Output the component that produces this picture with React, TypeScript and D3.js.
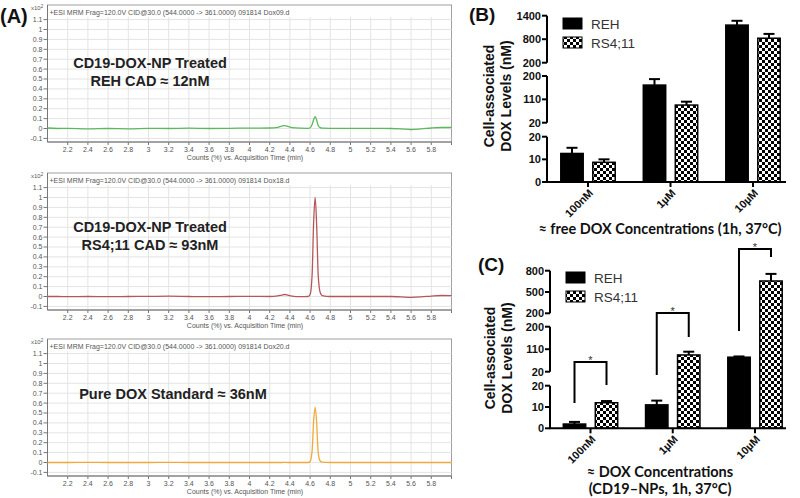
import React from 'react';
import * as d3 from 'd3';

// (A) chromatograms: acquisition time (min) and counts (x10^2)
const acqTimes = [2.0, 2.1, 2.2, 2.4, 2.6, 2.8, 3.0, 3.2, 3.4, 3.6, 3.8, 4.0, 4.2, 4.28, 4.32, 4.35, 4.38, 4.42, 4.5, 4.58, 4.6, 4.62, 4.635, 4.65, 4.665, 4.68, 4.7, 4.72, 4.8, 5.0, 5.2, 5.4, 5.5, 5.6, 5.7, 5.8, 5.9, 6.0];
const rehCounts = [0.005, 0.0, 0.002, -0.004, 0.0, -0.003, 0.002, 0.0, 0.003, 0.0, 0.002, 0.004, 0.005, 0.012, 0.025, 0.03, 0.022, 0.008, 0.003, 0.002, 0.008, 0.04, 0.09, 0.12, 0.085, 0.03, 0.008, 0.003, 0.002, 0.002, 0.001, 0.0, -0.003, -0.01, -0.004, 0.005, 0.01, 0.01];
const rs4Counts = [0.0, 0.0, -0.002, 0.0, -0.002, 0.0, 0.001, 0.003, 0.0, -0.002, 0.0, 0.001, 0.0, 0.006, 0.015, 0.02, 0.014, 0.004, -0.002, 0.0, 0.02, 0.22, 0.75, 1.0, 0.72, 0.22, 0.04, 0.01, 0.0, 0.0, 0.0, 0.0, -0.004, -0.008, -0.004, 0.004, 0.01, 0.008];
const stdCounts = [0.0, 0.0, 0.0, 0.001, 0.0, 0.0, 0.0, 0.001, 0.0, 0.0, 0.0, 0.0, 0.0, 0.0, 0.0, 0.001, 0.0, 0.0, 0.0, 0.0, 0.01, 0.12, 0.42, 0.56, 0.4, 0.1, 0.015, 0.003, 0.0, 0.0, 0.0, 0.0, 0.0, 0.0, 0.0, 0.0, 0.0, 0.0];
const timeTicks = [2.2, 2.4, 2.6, 2.8, 3, 3.2, 3.4, 3.6, 3.8, 4, 4.2, 4.4, 4.6, 4.8, 5, 5.2, 5.4, 5.6, 5.8];
const countTicks = [-0.1, 0, 0.1, 0.2, 0.3, 0.4, 0.5, 0.6, 0.7, 0.8, 0.9, 1, 1.1];

// (B) and (C) bar charts
const doseGroups = ['100nM', '1µM', '10µM'];
const cellLines = ['REH', 'RS4;11'];
const freeReh = [12.6, 165, 1160];
const freeRehErr = [2.5, 23, 110];
const freeRs4 = [8.7, 88, 825];
const freeRs4Err = [1.3, 13, 110];
const npReh = [2.0, 11, 78];
const npRehErr = [1.0, 2, 3];
const npRs4 = [12, 87, 655];
const npRs4Err = [0.8, 13, 100];
const freeTicks = [[0, 10, 20], [20, 110, 200], [200, 800, 1400]];
const npTicks = [[0, 10, 20], [20, 110, 200], [200, 500, 800]];

const SANS = '"Liberation Sans", Arial, sans-serif';

function Chromatogram({ top, counts, color, file, lines, labelX, labelY }: any) {
  const left = 47.5, right = 451.5;
  const bottom = top + 137;
  const x = d3.scaleLinear().domain([2.0, 6.0]).range([left, right]);
  const y = d3.scaleLinear().domain([0, 1]).range([top + 123.5, top + 24.5]);
  const line = d3.line<number>()
    .x((_, i) => x(acqTimes[i]))
    .y(d => y(d))
    .curve(d3.curveMonotoneX);

  return (
    <g>
      <rect x={left} y={top} width={right - left} height={bottom - top} fill="#fff" stroke="#a0a0a0" />
      {timeTicks.map(t => (
        <line key={'gx' + t} x1={x(t)} x2={x(t)} y1={top + 12} y2={bottom} stroke="#e4e4e4" />
      ))}
      {countTicks.map(c => (
        <line key={'gy' + c} x1={left} x2={right} y1={y(c)} y2={y(c)} stroke="#e4e4e4" />
      ))}
      <line x1={left} x2={left} y1={top} y2={bottom} stroke="#777" />
      <line x1={left} x2={right} y1={bottom} y2={bottom} stroke="#777" />
      {countTicks.map(c => (
        <g key={'ty' + c}>
          <line x1={left - 4} x2={left} y1={y(c)} y2={y(c)} stroke="#777" />
          <text x={left - 5} y={y(c)} dy="0.35em" textAnchor="end" fontSize={7} fill="#555" fontFamily={SANS}>{String(c)}</text>
        </g>
      ))}
      {[...timeTicks, 6].map(t => (
        <line key={'tx' + t} x1={x(t)} x2={x(t)} y1={bottom} y2={bottom + 3} stroke="#777" />
      ))}
      {timeTicks.map(t => (
        <text key={'lx' + t} x={x(t)} y={bottom + 10} textAnchor="middle" fontSize={7} fill="#555" fontFamily={SANS}>{String(t)}</text>
      ))}
      <text x={245} y={bottom + 18} textAnchor="middle" fontSize={7} fill="#555" fontFamily={SANS}>Counts (%) vs. Acquisition Time (min)</text>
      <text x={31} y={top + 5} fontSize={6} fill="#555" fontFamily={SANS}>x10<tspan dy={-2.5} fontSize={4.5}>2</tspan></text>
      <text x={left + 2} y={top + 10} fontSize={7} fill="#555" fontFamily={SANS}>{'+ESI MRM Frag=120.0V CID@30.0 (544.0000 -> 361.0000) 091814 ' + file}</text>
      <path d={line(counts) || ''} fill="none" stroke={color} strokeWidth={1.3} />
      {lines.map((s: string, i: number) => (
        <text key={s} x={labelX} y={labelY + i * 18} textAnchor="middle" fontSize={14.5} fontWeight="bold" fill="#222" fontFamily={SANS}>{s}</text>
      ))}
    </g>
  );
}

function BarPanel({ axisX, segRanges, ticks, centers, reh, rehErr, rs4, rs4Err, legendY, brackets }: any) {
  const segs = ticks.map((t: number[], i: number) =>
    d3.scaleLinear().domain([t[0], t[t.length - 1]]).range(segRanges[i]));
  const yOf = (v: number) => {
    let i = 0;
    while (i < segs.length - 1 && v > segs[i].domain()[1]) i++;
    return segs[i](v);
  };
  const bottom = segRanges[0][0];
  const gx = d3.scalePoint<string>().domain(doseGroups).range(centers);
  const sx = d3.scaleBand<string>().domain(cellLines).range([-27.2, 27.2]).paddingInner(0.3);
  const bw = sx.bandwidth();
  const series = [
    { name: 'REH', vals: reh, errs: rehErr, fill: '#000' },
    { name: 'RS4;11', vals: rs4, errs: rs4Err, fill: 'url(#checker)' },
  ];

  return (
    <g fontFamily={SANS}>
      {segs.map((s: any, i: number) => (
        <g key={'seg' + i}>
          <line x1={axisX} x2={axisX} y1={segRanges[i][0]} y2={segRanges[i][1]} stroke="#000" strokeWidth={2} />
          {ticks[i].map((t: number) => (
            <g key={t}>
              <line x1={axisX - 5} x2={axisX} y1={s(t)} y2={s(t)} stroke="#000" strokeWidth={2} />
              <text x={axisX - 6} y={s(t)} dy="0.35em" textAnchor="end" fontSize={11} fontWeight="bold" fill="#111">{t}</text>
            </g>
          ))}
        </g>
      ))}
      {series.map(se => doseGroups.map((g, gi) => {
        const x0 = (gx(g) as number) + (sx(se.name) as number);
        const top = yOf(se.vals[gi]);
        const errTop = yOf(se.vals[gi] + se.errs[gi]);
        const cx = x0 + bw / 2;
        return (
          <g key={se.name + g}>
            <line x1={cx} x2={cx} y1={top} y2={errTop} stroke="#000" strokeWidth={2} />
            <line x1={cx - 5.5} x2={cx + 5.5} y1={errTop} y2={errTop} stroke="#000" strokeWidth={2} />
            <rect x={x0} y={top} width={bw} height={bottom - top} fill={se.fill} stroke="#000" strokeWidth={1.5} />
          </g>
        );
      }))}
      <line x1={axisX - 1} x2={786} y1={bottom} y2={bottom} stroke="#000" strokeWidth={2} />
      {doseGroups.map(g => (
        <g key={'xt' + g}>
          <line x1={gx(g)} x2={gx(g)} y1={bottom} y2={bottom + 5} stroke="#000" strokeWidth={2} />
          <text transform={`translate(${(gx(g) as number) + 3},${bottom + 9}) rotate(-45)`} textAnchor="end" dy="0.35em" fontSize={11} fontWeight="bold" fill="#111">{g}</text>
        </g>
      ))}
      {brackets && brackets.map((b: any, i: number) => {
        const g = doseGroups[i];
        const xl = (gx(g) as number) + (sx('REH') as number) + bw / 2;
        const xr = (gx(g) as number) + (sx('RS4;11') as number) + bw / 2;
        return (
          <g key={'br' + i}>
            <path d={`M${xl},${b[1]}V${b[0]}H${xr}V${b[2]}`} fill="none" stroke="#000" strokeWidth={2} />
            <text x={(xl + xr) / 2} y={b[0] + 2} textAnchor="middle" fontSize={11} fill="#333">*</text>
          </g>
        );
      })}
      {series.map((se, i) => (
        <g key={'lg' + se.name}>
          <rect x={axisX + 16} y={legendY + i * 19} width={19} height={11} fill={se.fill} stroke="#000" strokeWidth={1} />
          <text x={axisX + 44} y={legendY + i * 19 + 10.5} fontSize={13.5} fill="#333">{se.name}</text>
        </g>
      ))}
    </g>
  );
}

export default function App() {
  return (
    <svg width={800} height={498} style={{ position: 'absolute', left: 0, top: 0, background: '#fff' }}>
      <defs>
        <pattern id="checker" width={6} height={6} patternUnits="userSpaceOnUse">
          <rect width={6} height={6} fill="#fff" />
          <rect width={3} height={3} fill="#000" />
          <rect x={3} y={3} width={3} height={3} fill="#000" />
        </pattern>
      </defs>
      <rect width={800} height={498} fill="#fff" />

      <Chromatogram top={5} counts={rehCounts} color="#5cb85c" file="Dox09.d"
        lines={['CD19-DOX-NP Treated', 'REH CAD ≈ 12nM']} labelX={150} labelY={68} />
      <Chromatogram top={173} counts={rs4Counts} color="#b5575a" file="Dox18.d"
        lines={['CD19-DOX-NP Treated', 'RS4;11 CAD ≈ 93nM']} labelX={150} labelY={232} />
      <Chromatogram top={339} counts={stdCounts} color="#f2a93b" file="Dox20.d"
        lines={['Pure DOX Standard ≈ 36nM']} labelX={173} labelY={399} />
      <text x={0} y={23} fontSize={20} fontWeight="bold" fontFamily={SANS} fill="#111">(A)</text>

      <text x={469} y={21} fontSize={19} fontWeight="bold" fontFamily={SANS} fill="#111">(B)</text>
      <g fontFamily={SANS} fontWeight="bold" fontSize={14} fill="#111" textAnchor="middle">
        <text transform="translate(494,96) rotate(-90)">Cell-associated</text>
        <text transform="translate(511,96) rotate(-90)">DOX Levels (nM)</text>
      </g>
      <BarPanel axisX={547} segRanges={[[182, 136.7], [122.7, 76], [62.7, 15.7]]} ticks={freeTicks}
        centers={[588, 753]} reh={freeReh} rehErr={freeRehErr} rs4={freeRs4} rs4Err={freeRs4Err} legendY={18} />
      <text x={660} y={234} textAnchor="middle" fontSize={14.5} fontWeight="bold" fontFamily="Lato, sans-serif" fill="#111">≈ free DOX Concentrations (1h, 37°C)</text>

      <text x={478} y={271} fontSize={19} fontWeight="bold" fontFamily={SANS} fill="#111">(C)</text>
      <g fontFamily={SANS} fontWeight="bold" fontSize={14} fill="#111" textAnchor="middle">
        <text transform="translate(495,358) rotate(-90)">Cell-associated</text>
        <text transform="translate(512,358) rotate(-90)">DOX Levels (nM)</text>
      </g>
      <BarPanel axisX={550} segRanges={[[428.3, 385.7], [371.7, 326.7], [313.3, 270.7]]} ticks={npTicks}
        centers={[590.5, 755]} reh={npReh} rehErr={npRehErr} rs4={npRs4} rs4Err={npRs4Err} legendY={272}
        brackets={[[362, 403, 385], [313, 375, 337], [249, 331, 257]]} />
      <text x={660} y={477} textAnchor="middle" fontSize={14.5} fontWeight="bold" fontFamily="Lato, sans-serif" fill="#111">≈ DOX Concentrations</text>
      <text x={660} y={494} textAnchor="middle" fontSize={14.5} fontWeight="bold" fontFamily="Lato, sans-serif" fill="#111">(CD19–NPs, 1h, 37°C)</text>
    </svg>
  );
}
